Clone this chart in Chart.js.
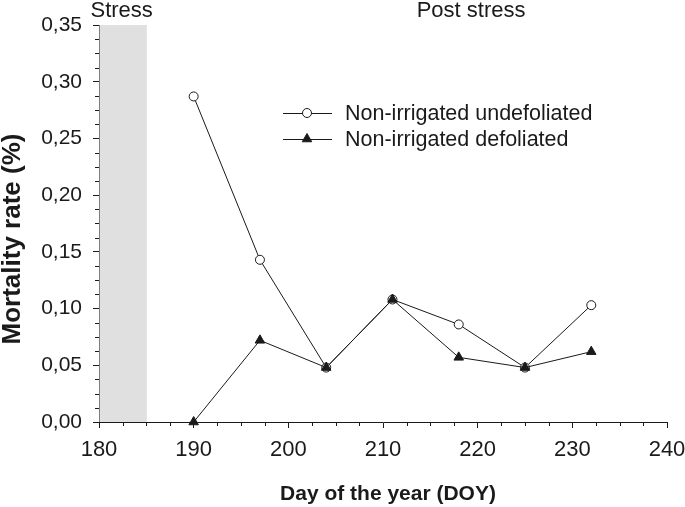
<!DOCTYPE html>
<html>
<head>
<meta charset="utf-8">
<script src="https://cdn.jsdelivr.net/npm/chart.js@4.4.0/dist/chart.umd.min.js"></script>
<style>
  html, body { margin: 0; padding: 0; background: #fff; }
  #wrap { width: 685px; height: 507px; }
</style>
</head>
<body>
<div id="wrap"><canvas id="myChart" width="685" height="507"></canvas></div>
<script>
const days = [190, 197, 204, 211, 218, 225, 232];
const undefoliated = [0.287, 0.143, 0.048, 0.108, 0.086, 0.048, 0.103];
const defoliated = [0.000, 0.072, 0.048, 0.108, 0.057, 0.048, 0.062];
const stressPeriod = [180, 185];
const xMinorStep = 2.5;
const yMinorStep = 0.0125;

const ink = '#1a1a1a';
const fontFamily = '"Liberation Sans", Arial, sans-serif';

const toPoints = (vals) => days.map((d, i) => ({ x: d, y: vals[i] }));

const extras = {
    id: 'extras',
    beforeDatasetsDraw(chart) {
        const { ctx, chartArea, scales } = chart;
        const x0 = scales.x.getPixelForValue(stressPeriod[0]);
        const x1 = scales.x.getPixelForValue(stressPeriod[1]);
        ctx.save();
        ctx.fillStyle = '#e0e0e0';
        ctx.fillRect(x0 + 0.5, chartArea.top, x1 - x0, chartArea.bottom - chartArea.top);
        ctx.restore();
    },
    afterDraw(chart) {
        const { ctx, chartArea, scales } = chart;
        ctx.save();
        ctx.strokeStyle = ink;
        ctx.lineWidth = 1;
        ctx.beginPath();
        for (let v = 180; v <= 240; v += xMinorStep) {
            if (v % 10 === 0) continue;
            const px = Math.round(scales.x.getPixelForValue(v)) + 0.5;
            ctx.moveTo(px, chartArea.bottom);
            ctx.lineTo(px, chartArea.bottom + 4);
        }
        for (let k = 0; k <= 28; k++) {
            if (k % 4 === 0) continue;
            const py = Math.round(scales.y.getPixelForValue(k * yMinorStep)) + 0.5;
            ctx.moveTo(chartArea.left, py);
            ctx.lineTo(chartArea.left - 4, py);
        }
        ctx.stroke();

        // axis titles
        ctx.fillStyle = ink;
        ctx.textAlign = 'center';
        ctx.textBaseline = 'middle';
        ctx.font = 'bold 21px ' + fontFamily;
        ctx.fillText('Day of the year (DOY)', 388, 494);
        ctx.save();
        ctx.translate(13, 239);
        ctx.rotate(-Math.PI / 2);
        ctx.font = 'bold 26px ' + fontFamily;
        ctx.fillText('Mortality rate (%)', 0, 0);
        ctx.restore();

        // period labels
        ctx.font = '22px ' + fontFamily;
        ctx.fillText('Stress', (scales.x.getPixelForValue(stressPeriod[0]) + scales.x.getPixelForValue(stressPeriod[1])) / 2 - 1, 11);
        ctx.fillText('Post stress', scales.x.getPixelForValue(219.3), 11);

        // legend
        const rows = [
            { label: 'Non-irrigated undefoliated', style: 'circle', r: 4.5, fill: '#fff', y: 113 },
            { label: 'Non-irrigated defoliated', style: 'triangle', r: 5.5, fill: ink, y: 139 }
        ];
        rows.forEach(row => {
            ctx.beginPath();
            ctx.moveTo(283, row.y + 0.5);
            ctx.lineTo(332, row.y + 0.5);
            ctx.strokeStyle = ink;
            ctx.lineWidth = 1;
            ctx.stroke();
            ctx.fillStyle = row.fill;
            ctx.strokeStyle = ink;
            Chart.helpers.drawPoint(ctx, {
                pointStyle: row.style,
                radius: row.r,
                rotation: 0,
                borderWidth: 1
            }, 307, row.y);
            ctx.fillStyle = ink;
            ctx.textAlign = 'left';
            ctx.font = '21.5px ' + fontFamily;
            ctx.fillText(row.label, 345, row.y + 1);
        });
        ctx.restore();
    }
};

const ctx = document.getElementById('myChart').getContext('2d');
const myChart = new Chart(ctx, {
    type: 'line',
    data: {
        datasets: [{
            label: 'Non-irrigated defoliated',
            data: toPoints(defoliated),
            borderColor: ink,
            borderWidth: 1,
            pointStyle: 'triangle',
            pointRadius: 5.5,
            pointBackgroundColor: ink,
            pointBorderColor: ink,
            pointBorderWidth: 1,
            tension: 0,
            clip: false
        }, {
            label: 'Non-irrigated undefoliated',
            data: toPoints(undefoliated),
            borderColor: ink,
            borderWidth: 1,
            pointStyle: 'circle',
            pointRadius: 4.5,
            pointBackgroundColor: '#fff',
            pointBorderColor: ink,
            pointBorderWidth: 1,
            tension: 0,
            clip: false
        }]
    },
    options: {
        responsive: false,
        animation: false,
        events: [],
        layout: { padding: { top: 25, right: 18, bottom: 0, left: 0 } },
        plugins: { legend: { display: false }, tooltip: { enabled: false } },
        scales: {
            x: {
                type: 'linear',
                min: 180,
                max: 240,
                afterFit: (s) => {
                    s.height = 85;
                    s.paddingLeft = 0;
                    s.paddingRight = 0;
                },
                border: { color: ink, width: 1 },
                grid: { display: true, drawOnChartArea: false, tickLength: 6, tickColor: ink },
                ticks: {
                    stepSize: 10,
                    color: ink,
                    padding: 9,
                    maxRotation: 0,
                    font: { family: fontFamily, size: 22 }
                }
            },
            y: {
                min: 0,
                max: 0.35,
                afterFit: (s) => {
                    s.width = 99;
                    s.paddingTop = 0;
                    s.paddingBottom = 0;
                },
                border: { color: ink, width: 1 },
                grid: { display: true, drawOnChartArea: false, tickLength: 6, tickColor: ink },
                ticks: {
                    stepSize: 0.05,
                    color: ink,
                    padding: 11,
                    font: { family: fontFamily, size: 21 },
                    callback: (v) => v.toFixed(2).replace('.', ',')
                }
            }
        }
    },
    plugins: [extras]
});
</script>
</body>
</html>
